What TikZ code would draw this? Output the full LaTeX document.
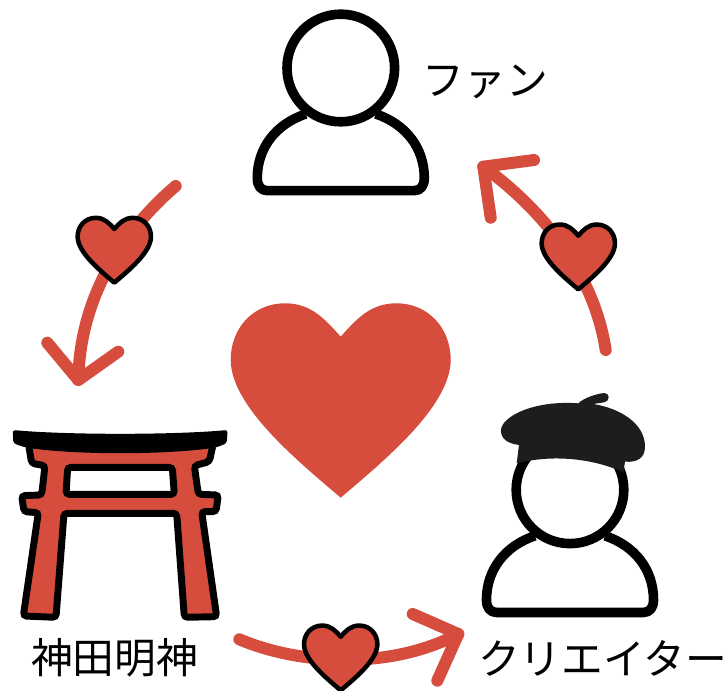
\documentclass[tikz,border=0pt]{standalone}
\usepackage{fontspec}
\newfontfamily\jpfont{Noto Sans CJK JP}
\definecolor{heartred}{HTML}{D64D3D}
\definecolor{beretblack}{HTML}{1D1D1B}
\tikzset{
    pics/heart/.style={code={
        \path[pic actions] (0,0) .. controls (-16,-18) and (-30,-33.4) .. (-55.7,-33.4)
            .. controls (-88,-33.4) and (-110,-8) .. (-110,23)
            .. controls (-110,70) and (-42,125) .. (0,161)
            .. controls (42,125) and (110,70) .. (110,23)
            .. controls (110,-8) and (88,-33.4) .. (55.7,-33.4)
            .. controls (30,-33.4) and (16,-18) .. (0,0) -- cycle;
    }},
    pics/person/.style={code={
        \draw[line width=7.2pt] (0,0) circle [radius=53.8];
        \draw[line width=7.2pt,line join=round] (-35,46) .. controls (-65,56) and (-83.5,80) .. (-83.5,110)
            .. controls (-83.5,118) and (-80,122.7) .. (-73,122.7) -- (73,122.7)
            .. controls (80,122.7) and (83.5,118) .. (83.5,110)
            .. controls (83.5,80) and (65,56) .. (35,46);
    }},
    smallheart/.style={scale=1/3,fill=heartred,draw=black,line width=3.4pt,line join=round},
    bigheart/.style={fill=heartred},
    flow/.style={draw=heartred,line width=9pt,line cap=round,line join=round},
    label/.style={font=\jpfont\fontsize{31.3}{31.3}\selectfont,inner sep=0pt},
}
\begin{document}
\begin{tikzpicture}[x=.75pt,y=-.75pt]
    \useasboundingbox (0,0) rectangle (726,691);
    % arrow ends
    \coordinate (a1s) at (175.7,186);
    \coordinate (a1t) at (78.3,380);
    \coordinate (a1l) at (47.3,342.7);
    \coordinate (a1r) at (118.3,351.7);
    \coordinate (a2s) at (605.7,350);
    \coordinate (a2t) at (483.3,166.7);
    \coordinate (a2l) at (534,160);
    \coordinate (a2r) at (490.7,217.7);
    \coordinate (a3s) at (239.3,639.3);
    \coordinate (a3t) at (458.3,634);
    \coordinate (a3l) at (412.7,614);
    \coordinate (a3r) at (437.3,680.7);

    \draw[flow] (a1s) .. controls (130,225) and (80,290) .. (a1t);
    \draw[flow] (a1l) -- (a1t) -- (a1r);
    \draw[flow] (a2s) .. controls (595,280) and (550,215) .. (a2t);
    \draw[flow] (a2l) -- (a2t) -- (a2r);
    \draw[flow] (a3s) .. controls (300,665) and (390,670) .. (a3t);
    \draw[flow] (a3l) -- (a3t) -- (a3r);

    \pic[bigheart] (bigh) at (340.7,336.7) {heart};
    \pic[smallheart] (h1) at (114.3,229) {heart};
    \pic[smallheart] (h2) at (578.3,235.7) {heart};
    \pic[smallheart] (h3) at (340.7,636.7) {heart};

    \pic (fan) at (340.8,68) {person};
    \pic (creator) at (570,489.8) {person};

    % beret
    \begin{scope}[shift={(470,380)},scale=1/3]
        \fill[beretblack] (140,250) -- (147,195) .. controls (110,190) and (92,175) .. (93,150)
            .. controls (95,110) and (190,60) .. (325,70)
            .. controls (340,55) and (375,42) .. (403,39)
            .. controls (420,40) and (420,62) .. (405,66)
            .. controls (395,69) and (380,70) .. (370,72)
            .. controls (450,85) and (525,130) .. (525,200)
            .. controls (525,235) and (500,248) .. (465,245)
            -- (460,277) .. controls (380,240) and (260,220) .. (140,250) -- cycle;
    \end{scope}

    % torii
    \begin{scope}[shift={(0,400)},scale=1/3]
        \draw[fill=heartred,draw=black,line width=5.2pt,rounded corners=2.5pt,even odd rule]
            (86,135) -- (95,190) -- (135,197) -- (125,285) -- (65,287) -- (72,335) -- (115,338)
            -- (70,648) -- (168,652) -- (192,340) -- (530,340) -- (553,652) -- (650,650)
            -- (605,335) -- (648,335) -- (655,285) -- (595,283) -- (583,197) -- (628,185)
            -- (639,135) -- cycle
            (203,202) -- (517,202) -- (523,283) -- (198,283) -- cycle;
        \fill[black,rounded corners=2pt] (38,90) .. controls (200,105) and (520,105) .. (683,90)
            -- (680,130) -- (650,142) .. controls (500,165) and (220,165) .. (75,142)
            -- (40,130) -- cycle;
    \end{scope}

    \node[label] (fanlabel) at (485.5,82) {ファン};
    \node[label] (shrinelabel) at (114.5,658) {神田明神};
    \node[label] (creatorlabel) at (602.5,658) {クリエイター};
\end{tikzpicture}
\end{document}
